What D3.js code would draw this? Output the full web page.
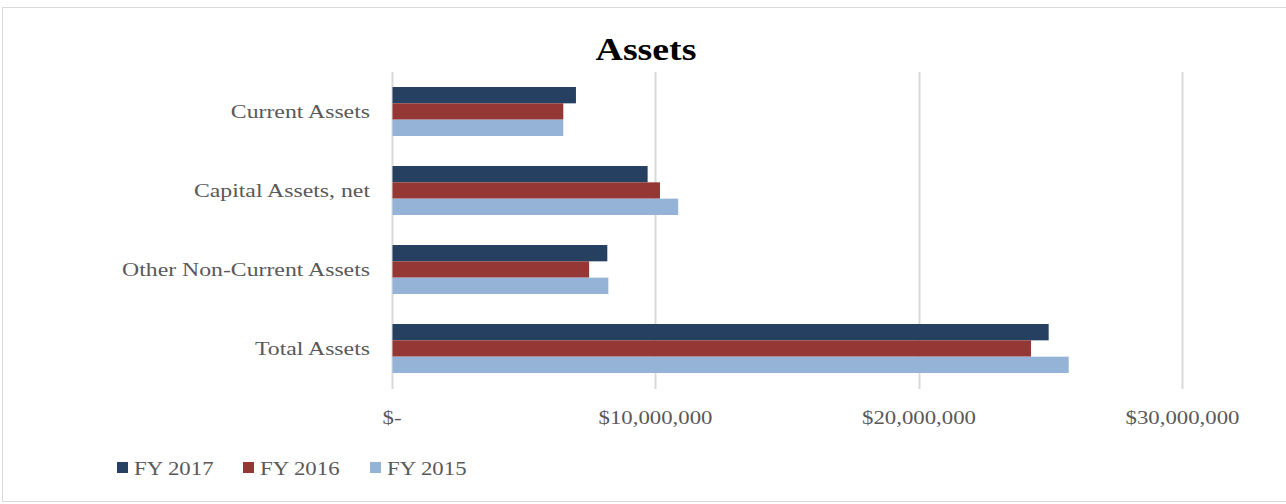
<!DOCTYPE html>
<html><head><meta charset="utf-8">
<script src="https://cdn.jsdelivr.net/npm/d3@7"></script>
<style>body{margin:0;background:#fff}svg{display:block}</style>
</head><body>
<svg id="c" width="1286" height="504"></svg>
<script>
const categories = ["Current Assets","Capital Assets, net","Other Non-Current Assets","Total Assets"];
const seriesNames = ["FY 2017","FY 2016","FY 2015"];
const fy2017 = [7000000, 9720000, 8190000, 24940000];
const fy2016 = [6520000, 10190000, 7500000, 24270000];
const fy2015 = [6520000, 10880000, 8230000, 25700000];
const tickValues = [0, 10000000, 20000000, 30000000];
const tickLabels = ["$-","$10,000,000","$20,000,000","$30,000,000"];
const colors = ["#264061","#953735","#95B3D7"];
const series = [fy2017, fy2016, fy2015];

const svg = d3.select("#c");
const font = "'Liberation Serif','Times New Roman',serif";
const sx = 1.2;
svg.append("rect").attr("x",2.5).attr("y",7.5).attr("width",1290).attr("height",494)
  .attr("fill","#fff").attr("stroke","#d9d9d9");

const x = d3.scaleLinear().domain([0,30000000]).range([391.5,1182]);
const y0 = d3.scaleBand().domain(categories).range([72,388]).paddingInner(0.38).paddingOuter(0.19);
const y1 = d3.scaleBand().domain(seriesNames).range([0,y0.bandwidth()]);

// gridlines
svg.append("g").selectAll("line").data(tickValues).join("line")
  .attr("x1",d=>Math.round(x(d))+0.5).attr("x2",d=>Math.round(x(d))+0.5)
  .attr("y1",72).attr("y2",389).attr("stroke","#d9d9d9").attr("stroke-width",2);

// bars
const g = svg.append("g");
categories.forEach((c,i)=>{
  series.forEach((s,j)=>{
    g.append("rect").attr("x",x(0)+1).attr("y",y0(c)+y1(seriesNames[j]))
      .attr("width",x(s[i])-x(0)-1).attr("height",y1.bandwidth())
      .attr("fill",colors[j]);
  });
});

// x axis labels
const xa = d3.axisBottom(x).tickValues(tickValues).tickFormat((d,i)=>tickLabels[i]).tickSize(0);
const xg = svg.append("g").attr("transform","translate(0,408)").call(xa);
xg.select(".domain").remove();
xg.selectAll("text").attr("font-family",font).attr("font-size",19).attr("fill","#595959")
  .attr("transform",`scale(${sx},1)`);

// y axis labels
const ya = d3.axisLeft(y0).tickSize(0).tickPadding(0);
const yg = svg.append("g").attr("transform","translate(370,0)").call(ya);
yg.select(".domain").remove();
yg.selectAll("text").attr("font-family",font).attr("font-size",19).attr("fill","#595959")
  .attr("transform",`scale(1.25,1)`);

// title
svg.append("g").attr("transform","translate(646,60)")
  .append("text").attr("text-anchor","middle").attr("transform","scale(1.22,1)")
  .attr("font-family",font).attr("font-size",31).attr("font-weight","bold").attr("fill","#000").text("Assets");

// legend
const lx = [117,243,370];
seriesNames.forEach((n,j)=>{
  svg.append("rect").attr("x",lx[j]).attr("y",462).attr("width",11).attr("height",11).attr("fill",colors[j]);
  svg.append("g").attr("transform",`translate(${lx[j]+17},475)`)
    .append("text").attr("transform",`scale(${sx},1)`).attr("font-family",font).attr("font-size",19)
    .attr("fill","#595959").text(n);
});
</script>
</body></html>
